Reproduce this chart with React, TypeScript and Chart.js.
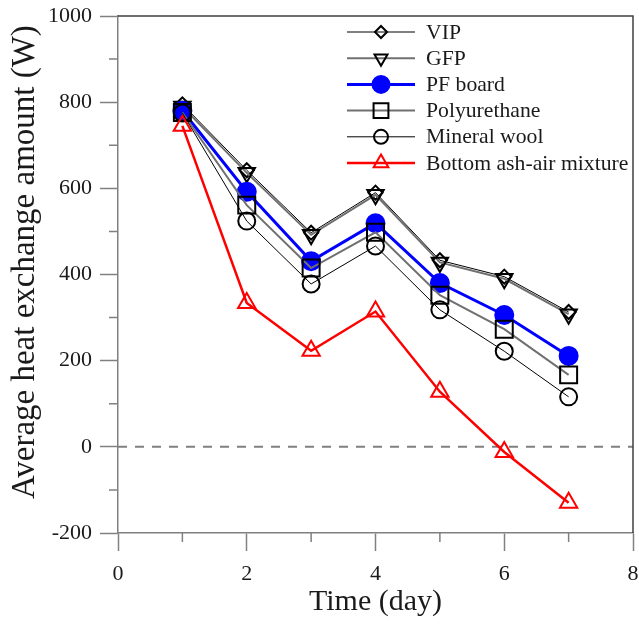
import { useEffect, useRef } from 'react';
import { Chart, registerables } from 'chart.js';
import { drawPoint } from 'chart.js/helpers';

Chart.register(...registerables);

const days = [1, 2, 3, 4, 5, 6, 7];
const seriesNames = ['VIP', 'GFP', 'PF board', 'Polyurethane', 'Mineral wool', 'Bottom ash-air mixture'];
const vip = [795, 642, 497, 590, 433, 395, 313];
const gfp = [790, 636, 492, 585, 428, 390, 308];
const pfBoard = [780, 592, 431, 519, 380, 306, 211];
const polyurethane = [776, 561, 415, 498, 352, 273, 167];
const mineralWool = [775, 524, 378, 466, 318, 222, 116];
const bottomAsh = [745, 334, 223, 314, 128, -12, -130];
const xTicks = [0, 2, 4, 6, 8];
const yTicks = [-200, 0, 200, 400, 600, 800, 1000];

const FONT = '"Liberation Serif", "Times New Roman", serif';
const AXIS = '#808080';

const styles = [
  { color: '#000000', width: 1, point: 'rectRot', rot: 0, r: 7, fill: 'rgba(0,0,0,0)', pb: '#000000', lr: 6 },
  { color: '#707070', width: 2, point: 'triangle', rot: 180, r: 9.5, fill: 'rgba(0,0,0,0)', pb: '#000000', lr: 7.5 },
  { color: '#0000ff', width: 3, point: 'circle', rot: 0, r: 9, fill: '#0000ff', pb: '#0000ff', lr: 8.5 },
  { color: '#707070', width: 2, point: 'rect', rot: 0, r: 12, fill: 'rgba(0,0,0,0)', pb: '#000000', lr: 10.5 },
  { color: '#000000', width: 1, point: 'circle', rot: 0, r: 8.5, fill: 'rgba(0,0,0,0)', pb: '#000000', lr: 7 },
  { color: '#ff0000', width: 2.5, point: 'triangle', rot: 0, r: 10, fill: 'rgba(0,0,0,0)', pb: '#ff0000', lr: 8.5 },
];

const allSeries = [vip, gfp, pfBoard, polyurethane, mineralWool, bottomAsh];

const zeroLinePlugin = {
  id: 'zeroLine',
  beforeDatasetsDraw(chart: any) {
    const { ctx, chartArea, scales } = chart;
    const y = scales.y.getPixelForValue(0);
    ctx.save();
    ctx.strokeStyle = AXIS;
    ctx.lineWidth = 2;
    ctx.setLineDash([9, 8]);
    ctx.beginPath();
    ctx.moveTo(chartArea.left, y);
    ctx.lineTo(chartArea.right, y);
    ctx.stroke();
    ctx.restore();
  },
};

const framePlugin = {
  id: 'frame',
  afterDraw(chart: any) {
    const { ctx, chartArea, scales } = chart;
    ctx.save();
    ctx.strokeStyle = '#404040';
    ctx.lineWidth = 1.5;
    ctx.beginPath();
    ctx.moveTo(chartArea.left, chartArea.top);
    ctx.lineTo(chartArea.right, chartArea.top);
    ctx.lineTo(chartArea.right, chartArea.bottom);
    ctx.stroke();
    // minor ticks
    ctx.strokeStyle = AXIS;
    ctx.lineWidth = 1.5;
    ctx.beginPath();
    for (let i = 0; i < yTicks.length - 1; i++) {
      const v = (yTicks[i] + yTicks[i + 1]) / 2;
      const py = scales.y.getPixelForValue(v);
      ctx.moveTo(chartArea.left, py);
      ctx.lineTo(chartArea.left - 9, py);
    }
    for (let i = 0; i < xTicks.length - 1; i++) {
      const v = (xTicks[i] + xTicks[i + 1]) / 2;
      const px = scales.x.getPixelForValue(v);
      ctx.moveTo(px, chartArea.bottom);
      ctx.lineTo(px, chartArea.bottom + 9);
    }
    ctx.stroke();
    ctx.restore();
  },
};

const legendPlugin = {
  id: 'lineLegend',
  afterDraw(chart: any) {
    const { ctx } = chart;
    const x0 = 347;
    const x1 = 415;
    const xm = 381;
    const xt = 426;
    const y0 = 32;
    const step = 26.2;
    ctx.save();
    styles.forEach((s, i) => {
      const y = y0 + i * step;
      ctx.strokeStyle = s.color;
      ctx.lineWidth = s.width;
      ctx.setLineDash([]);
      ctx.beginPath();
      ctx.moveTo(x0, y);
      ctx.lineTo(x1, y);
      ctx.stroke();
      ctx.fillStyle = s.fill;
      ctx.strokeStyle = s.pb;
      ctx.lineWidth = 2;
      drawPoint(ctx, { pointStyle: s.point, rotation: s.rot, radius: s.lr, borderWidth: 2 }, xm, y);
      ctx.fillStyle = '#1a1a1a';
      ctx.font = `21.7px ${FONT}`;
      ctx.textAlign = 'left';
      ctx.textBaseline = 'middle';
      ctx.fillText(seriesNames[i], xt, y + 1);
    });
    ctx.restore();
  },
};

export default function App() {
  const ref = useRef<HTMLCanvasElement | null>(null);

  useEffect(() => {
    document.body.style.margin = '0';
    if (!ref.current) return;
    const datasets = allSeries.map((vals, i) => {
      const s = styles[i];
      return {
        label: seriesNames[i],
        data: days.map((d, j) => ({ x: d, y: vals[j] })),
        borderColor: s.color,
        borderWidth: s.width,
        pointStyle: s.point,
        rotation: s.rot,
        pointRadius: s.r,
        pointHoverRadius: s.r,
        pointBackgroundColor: s.fill,
        pointBorderColor: s.pb,
        pointBorderWidth: 2,
        fill: false,
        tension: 0,
        order: 6 - i,
      };
    });
    const chart = new Chart(ref.current, {
      type: 'line',
      data: { datasets },
      plugins: [zeroLinePlugin, framePlugin, legendPlugin],
      options: {
        animation: false,
        responsive: false,
        maintainAspectRatio: false,
        layout: { autoPadding: false, padding: { top: 16, right: 6, left: 0, bottom: 0 } },
        plugins: { legend: { display: false }, tooltip: { enabled: false } },
        scales: {
          x: {
            type: 'linear',
            min: 0,
            max: 8,
            afterBuildTicks: (scale: any) => {
              scale.ticks = xTicks.map((v) => ({ value: v }));
            },
            afterFit: (scale: any) => {
              scale.height = 91;
              scale.paddingLeft = 0;
              scale.paddingRight = 0;
            },
            ticks: {
              font: { family: FONT, size: 22 },
              color: '#1a1a1a',
              padding: 10,
              maxRotation: 0,
              callback: (v: any) => String(v),
            },
            grid: { display: true, drawOnChartArea: false, drawTicks: true, tickLength: 18, tickColor: AXIS, tickWidth: 1.5 },
            border: { display: true, color: AXIS, width: 1.5 },
            title: {
              display: true,
              text: 'Time (day)',
              font: { family: FONT, size: 30 },
              color: '#1a1a1a',
              padding: { top: 0, bottom: 4 },
            },
          },
          y: {
            type: 'linear',
            min: -200,
            max: 1000,
            afterBuildTicks: (scale: any) => {
              scale.ticks = yTicks.map((v) => ({ value: v }));
            },
            afterFit: (scale: any) => {
              scale.width = 118;
              scale.paddingTop = 0;
              scale.paddingBottom = 0;
            },
            ticks: {
              font: { family: FONT, size: 22 },
              color: '#1a1a1a',
              padding: 8,
              callback: (v: any) => String(v),
            },
            grid: { display: true, drawOnChartArea: false, drawTicks: true, tickLength: 18, tickColor: AXIS, tickWidth: 1.5 },
            border: { display: true, color: AXIS, width: 1.5 },
            title: {
              display: true,
              text: '   Average heat exchange amount (W)',
              font: { family: FONT, size: 33 },
              color: '#1a1a1a',
              padding: { top: 6, bottom: 0 },
            },
          },
        },
      },
    });
    return () => chart.destroy();
  }, []);

  return (
    <div style={{ width: 639, height: 624, background: '#ffffff' }}>
      <canvas ref={ref} width={639} height={624} style={{ display: 'block' }} />
    </div>
  );
}
